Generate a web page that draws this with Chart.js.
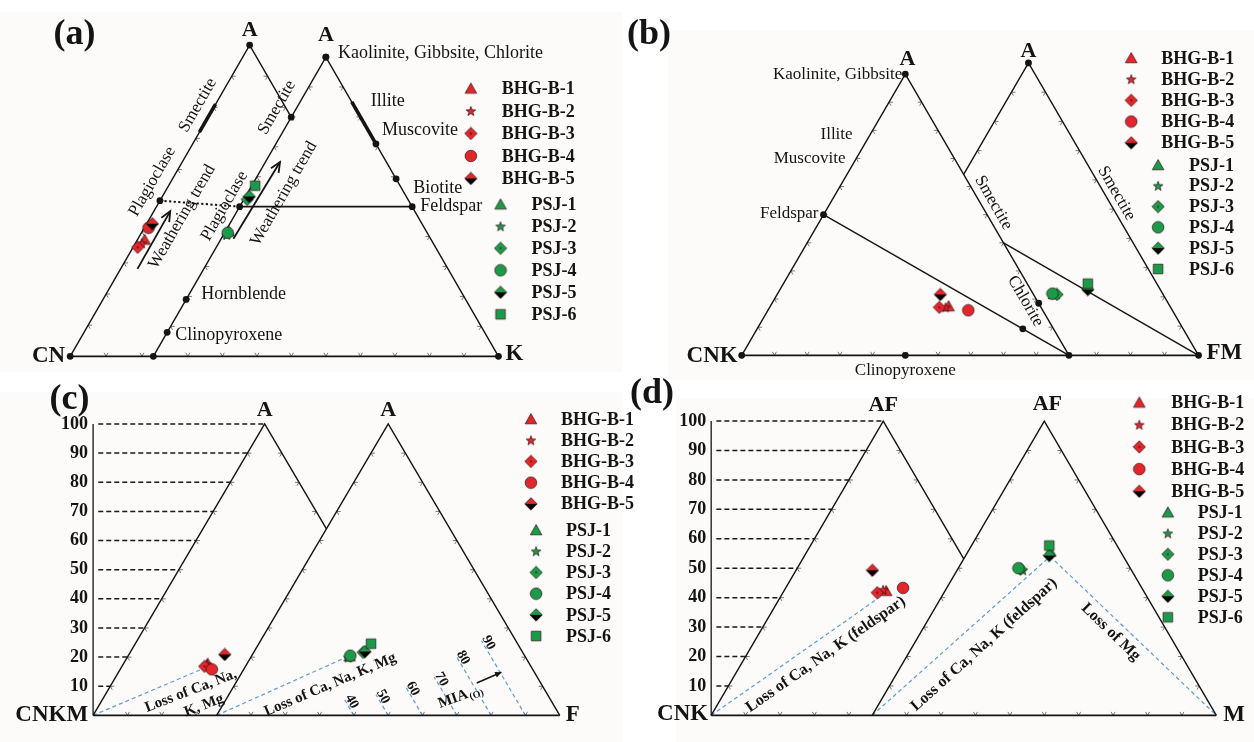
<!DOCTYPE html>
<html>
<head>
<meta charset="utf-8">
<title>Ternary weathering diagrams</title>
<script src="https://cdn.jsdelivr.net/npm/chart.js@4.4.1/dist/chart.umd.min.js"></script>
<style>
  html, body { margin: 0; padding: 0; background: #ffffff; }
  canvas { display: block; }
</style>
</head>
<body>
<canvas id="ternary" width="1254" height="742"></canvas>
<script>
// ---- values ----
const series = ['BHG-B-1', 'BHG-B-2', 'BHG-B-3', 'BHG-B-4', 'BHG-B-5',
                'PSJ-1', 'PSJ-2', 'PSJ-3', 'PSJ-4', 'PSJ-5', 'PSJ-6'];

// (a) A-CN-K  (A and K, %)
const aA = [37.5, 36.3, 35.0, 41.3, 42.6, 41.8, 40.6, 52.4, 41.3, 53.4, 57.0];
const aK = [2.0, 1.8, 1.3, 1.2, 1.6, 0.9, 1.0, 1.0, 0.9, 1.1, 1.0];
// (b) A-CNK-FM
const bA = [16.8, 16.4, 16.4, 15.4, 20.8, 21.0, 20.9, 20.8, 21.1, 22.5, 24.5];
const bFM = [18.1, 17.4, 15.6, 24.6, 13.7, 47.0, 47.4, 48.0, 46.5, 56.2, 55.2];
// (c) A-CNKM-F
const cA = [17.8, 17.5, 16.8, 15.8, 20.9, 20.3, 19.9, 21.6, 20.5, 21.9, 24.6];
const cF = [24.5, 24.4, 24.1, 26.7, 27.9, 28.6, 28.4, 31.9, 28.7, 32.3, 32.7];
// (d) AF-CNK-M
const dAF = [42.3, 42.7, 41.7, 43.3, 49.3, 55.7, 49.3, 49.7, 50.0, 54.3, 57.7];
const dM = [29.7, 28.6, 27.4, 34.1, 22.2, 23.9, 19.1, 18.3, 17.5, 24.3, 22.6];

// reference minerals in (a): A and K
const mineralNames = ['Kaolinite, Gibbsite, Chlorite', 'Muscovite', 'Biotite', 'Feldspar', 'Hornblende', 'Clinopyroxene'];
const mineralA = [100, 71, 59.3, 50, 19, 8];
const mineralK = [0, 29, 40.7, 50, 0, 0];

const yTicks = [10, 20, 30, 40, 50, 60, 70, 80, 90, 100];
const miaLevels = [40, 50, 60, 70, 80, 90];
const miaLength = [5.4, 7.1, 9.8, 13.1, 20.5, 25.6];

// end of the weathering trend lines: [top, right] in the left and main triangle
const trendC = [[16.3, 24.4], [20.5, 28.6]];
const trendD = [[40.7, 29.3], [54.0, 24.7]];

// ---- look ----
const INK = '#141414', RED = '#e3262b', GREEN = '#1b9a4a', BLUE = '#5c9bd6', PAPER = '#fcfbf9';
const SERIF = '"Liberation Serif", "Times New Roman", serif';
const W = 1254, H = 742;

// pixel frame of every panel: origin = lower-left corner of the main triangle
const panels = {
  a: { ox: 148, oy: 356, kx: 3.49, ky: 3.05, left: { x0: -24.1, s: 1.04 } },
  b: { ox: 861, oy: 355, kx: 3.44, ky: 2.98, left: { x0: -34.3, s: 0.962 } },
  c: { ox: 212, oy: 722, kx: 3.47, ky: 2.97, left: { x0: -36.0, s: 1 } },
  d: { ox: 875, oy: 722, kx: 3.48, ky: 3.00, left: { x0: -46.8, s: 1 } }
};
const MAIN = { x0: 0, s: 1 };
const bhgInLeft = { a: true, b: false, c: true, d: true };

// ternary (top, right) -> cartesian in panel units
function tern(f, top, right) {
  return { x: f.x0 + f.s * (right + top / 2), y: f.s * top };
}

function makeMarker(shape, fill) {
  const c = document.createElement('canvas');
  c.width = 14; c.height = 14;
  const g = c.getContext('2d');
  g.fillStyle = fill; g.strokeStyle = '#2a0e0e'; g.lineWidth = 0.7;
  g.beginPath();
  if (shape === 'triangle') {
    g.moveTo(7, 1.6); g.lineTo(12.8, 11.8); g.lineTo(1.2, 11.8); g.closePath();
  } else if (shape === 'star') {
    for (let k = 0; k < 10; k++) {
      const r = k % 2 ? 2.1 : 5.0, t = -Math.PI / 2 + k * Math.PI / 5;
      g.lineTo(7 + r * Math.cos(t), 7.5 + r * Math.sin(t));
    }
    g.closePath();
  } else if (shape === 'diamond' || shape === 'half') {
    g.moveTo(7, 0.8); g.lineTo(13.2, 7); g.lineTo(7, 13.2); g.lineTo(0.8, 7); g.closePath();
  } else if (shape === 'circle') {
    g.arc(7, 7, 5.8, 0, Math.PI * 2);
  } else {
    g.rect(2.2, 2.2, 9.6, 9.6);
  }
  g.fill(); g.stroke();
  g.fillStyle = '#000';
  if (shape === 'half') {
    g.beginPath(); g.moveTo(0.8, 7); g.lineTo(13.2, 7); g.lineTo(7, 13.2); g.closePath(); g.fill();
  }
  if (shape === 'diamond') {
    g.beginPath(); g.arc(7, 7, 0.8, 0, Math.PI * 2); g.fill();
  }
  return c;
}

const shapes = ['triangle', 'star', 'diamond', 'circle', 'half',
                'triangle', 'star', 'diamond', 'circle', 'half', 'square'];
const markers = series.map((s, i) => makeMarker(shapes[i], i < 5 ? RED : GREEN));

// ---- datasets ----
const datasets = [];
const tickEdges = [];
const arrows = [];
const labels = [];

function line(p, pts, style) {
  datasets.push(Object.assign({
    data: pts, xAxisID: 'x' + p, yAxisID: 'y' + p, showLine: true,
    pointRadius: 0, borderColor: INK, borderWidth: 1.4, order: 100
  }, style || {}));
}
function dots(p, pts) {
  datasets.push({
    data: pts, xAxisID: 'x' + p, yAxisID: 'y' + p,
    pointRadius: 3.4, pointBackgroundColor: INK, pointBorderWidth: 0, order: 60
  });
}
function edgeTicks(p, a, b, c, keep) {
  const ks = [1, 2, 3, 4, 5, 6, 7, 8, 9].filter(k => {
    const q = { x: a.x + (b.x - a.x) * k / 10, y: a.y + (b.y - a.y) * k / 10 };
    return keep ? keep(q) : true;
  });
  tickEdges.push({ p, a, b, c, ks });
}
function label(p, at, text, o) {
  labels.push(Object.assign({ p, at, text, dx: 0, dy: 0, rot: 0, align: 'center', font: '17px ' + SERIF }, o || {}));
}

const blue = { borderColor: BLUE, borderDash: [4, 3], borderWidth: 1.2 };
const vfont = 'bold 22px ' + SERIF;
const geo = {};

for (const p in panels) {
  const L = panels[p].left;
  const cnr = tern(L, 0, 0), lApex = tern(L, 100, 0), lRight = tern(L, 0, 100);
  const yI = L.x0 + 100 * L.s, inter = { x: yI / 2, y: yI };
  const o = { x: 0, y: 0 }, apex = { x: 50, y: 100 }, right = { x: 100, y: 0 };
  const lc = tern(L, 33, 33), rc = { x: 50, y: 33 };
  geo[p] = { L, cnr, lApex, lRight, inter, apex, right, o };

  line(p, [cnr, right], { borderWidth: 1.8 });
  if (p === 'b') {
    line(p, [cnr, lApex, lRight]);
    line(p, [inter, apex, right]);
    edgeTicks(p, cnr, lApex, lc);
    edgeTicks(p, lApex, lRight, lc);
    edgeTicks(p, cnr, lRight, lc);
    edgeTicks(p, o, apex, rc, q => q.y > yI);
    edgeTicks(p, apex, right, rc);
    edgeTicks(p, o, right, rc, q => q.x > lRight.x);
  } else {
    line(p, [cnr, lApex, inter]);
    line(p, [o, apex, right]);
    edgeTicks(p, cnr, lApex, lc);
    edgeTicks(p, lApex, lRight, lc, q => q.y > yI);
    edgeTicks(p, cnr, lRight, lc, q => q.x < 0);
    edgeTicks(p, o, apex, rc);
    edgeTicks(p, apex, right, rc);
    edgeTicks(p, o, right, rc);
  }
}

// (a) A-CN-K
(function () {
  const g = geo.a, L = g.L;
  const plagL = tern(L, 50, 0), plagR = tern(MAIN, 50, 0), feld = tern(MAIN, 50, 50);
  line('a', [plagL, plagR], { borderDash: [2.2, 2.4], borderWidth: 2 });
  line('a', [plagR, feld], { borderWidth: 1.7 });
  line('a', [tern(L, 72, 0), tern(L, 81, 0)], { borderWidth: 3.6 });
  line('a', [tern(MAIN, 85, 15), tern(MAIN, 71.5, 28.5)], { borderWidth: 3.6 });
  const mins = mineralNames.map((n, i) => tern(MAIN, mineralA[i], mineralK[i]));
  dots('a', [g.cnr, g.lApex, g.inter, g.o, g.apex, g.right, plagL, plagR].concat(mins));
  arrows.push({ p: 'a', from: { x: -4.6, y: 29.2 }, to: { x: 4.9, y: 48.5 } });
  arrows.push({ p: 'a', from: { x: 23.2, y: 39.3 }, to: { x: 36.7, y: 64.9 } });

  label('a', g.lApex, 'A', { dy: -15, font: vfont });
  label('a', g.apex, 'A', { dy: -22, font: vfont });
  label('a', g.cnr, 'CN', { dx: -5, align: 'right', font: 'bold 23px ' + SERIF });
  label('a', g.right, 'K', { dx: 7, dy: -2, align: 'left', font: 'bold 23px ' + SERIF });
  const f18 = '18px ' + SERIF;
  const offs = [[12, -4], [6, -14], [17, 9], [8, 0], [15, -5], [8, 3]];
  mineralNames.forEach((n, i) => label('a', mins[i], n, { dx: offs[i][0], dy: offs[i][1], align: 'left', font: f18 }));
  label('a', { x: 63.0, y: 85.2 }, 'Illite', { align: 'left', font: f18 });
  label('a', { x: -0.3, y: 58.4 }, 'Plagioclase', { rot: -60 });
  label('a', { x: 12.9, y: 83.9 }, 'Smectite', { rot: -60 });
  label('a', { x: 8.3, y: 46.6 }, 'Weathering trend', { rot: -60 });
  label('a', { x: 20.6, y: 50.2 }, 'Plagioclase', { rot: -60 });
  label('a', { x: 35.8, y: 83.1 }, 'Smectite', { rot: -60 });
  label('a', { x: 37.8, y: 54.4 }, 'Weathering trend', { rot: -60 });
  label('a', { x: -28.9, y: 107.5 }, '(a)', { align: 'left', font: 'bold 36px ' + SERIF });
})();

// (b) A-CNK-FM
(function () {
  const g = geo.b, L = g.L;
  const feld = tern(L, 50, 0), cpx = tern(L, 0, 50);
  line('b', [feld, g.lRight]);
  line('b', [tern(L, 40, 60), g.right]);
  dots('b', [g.cnr, g.lApex, g.apex, g.right, feld, cpx, g.lRight, tern(L, 18.5, 81.5), tern(L, 9.4, 81.2)]);

  label('b', g.lApex, 'A', { dx: 2, dy: -15, font: vfont });
  label('b', g.apex, 'A', { dy: -12, font: vfont });
  label('b', g.cnr, 'CNK', { dx: -4, dy: 1, align: 'right', font: 'bold 23px ' + SERIF });
  label('b', g.right, 'FM', { dx: 8, dy: -2, align: 'left', font: 'bold 23px ' + SERIF });
  label('b', g.lApex, 'Kaolinite, Gibbsite', { dx: -3, align: 'right' });
  label('b', { x: -1.7, y: 75.5 }, 'Illite', { align: 'right' });
  label('b', { x: -3.8, y: 67.4 }, 'Muscovite', { align: 'right' });
  label('b', feld, 'Feldspar', { dx: -5, dy: -1, align: 'right' });
  label('b', cpx, 'Clinopyroxene', { dy: 15 });
  label('b', { x: 39.7, y: 52.2 }, 'Smectite', { rot: 60 });
  label('b', { x: 49.1, y: 18.5 }, 'Chlorite', { rot: 60 });
  label('b', { x: 75.9, y: 55.4 }, 'Smectite', { rot: 60 });
  label('b', { x: -68.0, y: 109.7 }, '(b)', { align: 'left', font: 'bold 36px ' + SERIF });
})();

// y axis with dashed guides for (c) and (d)
function yAxis(p) {
  const L = geo[p].L;
  line(p, [{ x: L.x0, y: 0 }, { x: L.x0, y: 100 }], { borderWidth: 1.3 });
  yTicks.forEach(v => {
    line(p, [{ x: L.x0 + 1.5, y: v }, tern(L, v, 0)], { borderDash: [5, 3], borderWidth: 1.5, borderColor: '#1a1a1a' });
    label(p, { x: L.x0, y: v }, String(v), { dx: -5, align: 'right', font: 'bold 18px ' + SERIF });
  });
}

// (c) A-CNKM-F
(function () {
  const g = geo.c, L = g.L;
  yAxis('c');
  line('c', [g.cnr, tern(L, trendC[0][0], trendC[0][1])], blue);
  line('c', [g.o, tern(MAIN, trendC[1][0], trendC[1][1])], blue);
  const b15 = 'bold 15px ' + SERIF;
  miaLevels.forEach((m, i) => {
    const top = tern(MAIN, miaLength[i], m - miaLength[i]);
    line('c', [tern(MAIN, 0, m), top], blue);
    label('c', top, String(m), { dx: 7, dy: 2, rot: 62, font: 'bold 14px ' + SERIF });
  });
  arrows.push({ p: 'c', from: { x: 75.8, y: 11.1 }, to: { x: 83.0, y: 14.8 }, filled: true });

  label('c', g.lApex, 'A', { dy: -14, font: vfont });
  label('c', g.apex, 'A', { dy: -14, font: vfont });
  label('c', g.cnr, 'CNKM', { dx: -5, align: 'right', font: 'bold 23px ' + SERIF });
  label('c', g.right, 'F', { dx: 6, align: 'left', font: 'bold 23px ' + SERIF });
  label('c', { x: -7.5, y: 8.4 }, 'Loss of Ca, Na,', { rot: -21, font: b15 });
  label('c', { x: -3.7, y: 3.4 }, 'K, Mg', { rot: -21, font: b15 });
  label('c', { x: 33.1, y: 10.5 }, 'Loss of Ca, Na, K, Mg', { rot: -23, font: b15 });
  label('c', { x: 70.9, y: 6.4 }, 'MIA', { rot: -20, font: b15, sub: '(O)' });
  label('c', { x: -48.7, y: 108.4 }, '(c)', { align: 'left', font: 'bold 36px ' + SERIF });
})();

// (d) AF-CNK-M
(function () {
  const g = geo.d, L = g.L;
  yAxis('d');
  line('d', [g.cnr, tern(L, trendD[0][0], trendD[0][1])], blue);
  line('d', [g.o, tern(MAIN, trendD[1][0], trendD[1][1]), g.right], blue);
  const b16 = 'bold 16px ' + SERIF;
  label('d', g.lApex, 'AF', { dy: -16, font: vfont });
  label('d', g.apex, 'AF', { dx: 3, dy: -17, font: vfont });
  label('d', g.cnr, 'CNK', { dx: -3, dy: -1, align: 'right', font: 'bold 23px ' + SERIF });
  label('d', g.right, 'M', { dx: 7, align: 'left', font: 'bold 23px ' + SERIF });
  label('d', { x: -13.5, y: 20.7 }, 'Loss of Ca, Na, K (feldspar)', { rot: -35, font: b16 });
  label('d', { x: 32.5, y: 24.0 }, 'Loss of Ca, Na, K (feldspar)', { rot: -42, font: b16 });
  label('d', { x: 69.3, y: 28.3 }, 'Loss of Mg', { rot: 44, font: b16 });
  label('d', { x: -70.4, y: 109.3 }, '(d)', { align: 'left', font: 'bold 36px ' + SERIF });
})();

// sample points
const sampleVals = { a: [aA, aK], b: [bA, bFM], c: [cA, cF], d: [dAF, dM] };
for (const p in sampleVals) {
  const top = sampleVals[p][0], right = sampleVals[p][1];
  series.forEach((name, i) => {
    const f = (i < 5 && bhgInLeft[p]) ? panels[p].left : MAIN;
    datasets.push({
      label: name, data: [tern(f, top[i], right[i])],
      xAxisID: 'x' + p, yAxisID: 'y' + p,
      pointStyle: markers[i], pointRadius: 6, order: 20 - i
    });
  });
}

// legend anchors (panel units), row steps and text gap in px
const legends = {
  a: { red: { x: 92.0, y: 89.5 }, green: { x: 100.6, y: 50.8 }, stepR: 22.5, stepG: 22, gapR: 31, gapG: 31 },
  b: { red: { x: 80.2, y: 101.7 }, green: { x: 88.1, y: 65.1 }, stepR: 21.2, stepG: 20.8, gapR: 30, gapG: 31 },
  c: { red: { x: 91.6, y: 101.7 }, green: { x: 93.1, y: 63.6 }, stepR: 21.2, stepG: 21.2, gapR: 30, gapG: 30 },
  d: { red: { x: 77.6, y: 106.3 }, green: { x: 85.9, y: 69.0 }, stepR: 22.2, stepG: 21, gapR: 32, gapG: 30 }
};

function px(chart, p, pt) {
  return [chart.scales['x' + p].getPixelForValue(pt.x), chart.scales['y' + p].getPixelForValue(pt.y)];
}

const decor = {
  id: 'decor',
  beforeDraw(chart) {
    const ctx = chart.ctx;
    ctx.save();
    ctx.fillStyle = '#ffffff';
    ctx.fillRect(0, 0, W, H);
    ctx.fillStyle = PAPER;
    ctx.fillRect(0, 12, 622, 360);
    ctx.fillRect(668, 30, 586, 350);
    ctx.fillRect(0, 392, 622, 350);
    ctx.fillRect(676, 398, 578, 344);
    ctx.restore();
  },
  beforeDatasetsDraw(chart) {
    const ctx = chart.ctx;
    ctx.save();
    ctx.strokeStyle = '#555';
    ctx.lineWidth = 0.8;
    tickEdges.forEach(e => {
      const a = px(chart, e.p, e.a), b = px(chart, e.p, e.b), c = px(chart, e.p, e.c);
      const vx = b[0] - a[0], vy = b[1] - a[1], len = Math.hypot(vx, vy);
      const u = [vx / len, vy / len];
      let n = [-u[1], u[0]];
      const mx = (a[0] + b[0]) / 2, my = (a[1] + b[1]) / 2;
      if ((c[0] - mx) * n[0] + (c[1] - my) * n[1] < 0) n = [-n[0], -n[1]];
      e.ks.forEach(k => {
        const qx = a[0] + vx * k / 10, qy = a[1] + vy * k / 10;
        ctx.beginPath();
        ctx.moveTo(qx + n[0] * 3.5 - u[0] * 2, qy + n[1] * 3.5 - u[1] * 2);
        ctx.lineTo(qx, qy);
        ctx.lineTo(qx + n[0] * 3.5 + u[0] * 2, qy + n[1] * 3.5 + u[1] * 2);
        ctx.stroke();
      });
    });
    ctx.restore();
  },
  afterDatasetsDraw(chart) {
    const ctx = chart.ctx;
    ctx.save();
    // arrows
    arrows.forEach(a => {
      const s = px(chart, a.p, a.from), t = px(chart, a.p, a.to);
      const ang = Math.atan2(t[1] - s[1], t[0] - s[0]);
      ctx.strokeStyle = INK; ctx.fillStyle = INK;
      ctx.lineWidth = a.filled ? 1.6 : 1.8;
      ctx.beginPath(); ctx.moveTo(s[0], s[1]); ctx.lineTo(t[0], t[1]); ctx.stroke();
      const hl = a.filled ? 7 : 11, hw = a.filled ? 0.45 : 0.42;
      ctx.beginPath();
      ctx.moveTo(t[0] - hl * Math.cos(ang - hw), t[1] - hl * Math.sin(ang - hw));
      ctx.lineTo(t[0], t[1]);
      ctx.lineTo(t[0] - hl * Math.cos(ang + hw), t[1] - hl * Math.sin(ang + hw));
      if (a.filled) { ctx.closePath(); ctx.fill(); } else { ctx.stroke(); }
    });
    // text
    ctx.fillStyle = INK;
    ctx.textBaseline = 'middle';
    labels.forEach(l => {
      const q = px(chart, l.p, l.at);
      ctx.save();
      ctx.translate(q[0] + l.dx, q[1] + l.dy);
      if (l.rot) ctx.rotate(l.rot * Math.PI / 180);
      ctx.font = l.font;
      if (l.sub) {
        const w1 = ctx.measureText(l.text).width;
        ctx.font = 'bold 10px ' + SERIF;
        const w2 = ctx.measureText(l.sub).width;
        const x0 = -(w1 + w2) / 2;
        ctx.textAlign = 'left';
        ctx.fillText(l.sub, x0 + w1 + 1, 4);
        ctx.font = l.font;
        ctx.fillText(l.text, x0, 0);
      } else {
        ctx.textAlign = l.align;
        ctx.fillText(l.text, 0, 0);
      }
      ctx.restore();
    });
    // legends
    ctx.font = 'bold 18px ' + SERIF;
    ctx.textAlign = 'left';
    for (const p in legends) {
      const lg = legends[p];
      const r = px(chart, p, lg.red), g = px(chart, p, lg.green);
      series.forEach((name, i) => {
        const base = i < 5 ? r : g;
        const row = i < 5 ? i : i - 5;
        const y = base[1] + row * (i < 5 ? lg.stepR : lg.stepG);
        const m = markers[i];
        ctx.drawImage(m, base[0] - m.width / 2, y - m.height / 2);
        ctx.fillText(name, base[0] + (i < 5 ? lg.gapR : lg.gapG), y + 1);
      });
    }
    ctx.restore();
  }
};

const scales = {};
for (const p in panels) {
  const f = panels[p];
  scales['x' + p] = { type: 'linear', axis: 'x', position: 'bottom', display: false,
    min: -f.ox / f.kx, max: (W - f.ox) / f.kx };
  scales['y' + p] = { type: 'linear', axis: 'y', position: 'left', display: false,
    min: (f.oy - H) / f.ky, max: f.oy / f.ky };
}

new Chart(document.getElementById('ternary'), {
  type: 'scatter',
  data: { datasets: datasets },
  options: {
    responsive: false,
    animation: false,
    devicePixelRatio: 1,
    events: [],
    layout: { padding: 0 },
    plugins: { legend: { display: false }, tooltip: { enabled: false } },
    scales: scales
  },
  plugins: [decor]
});
</script>
</body>
</html>
